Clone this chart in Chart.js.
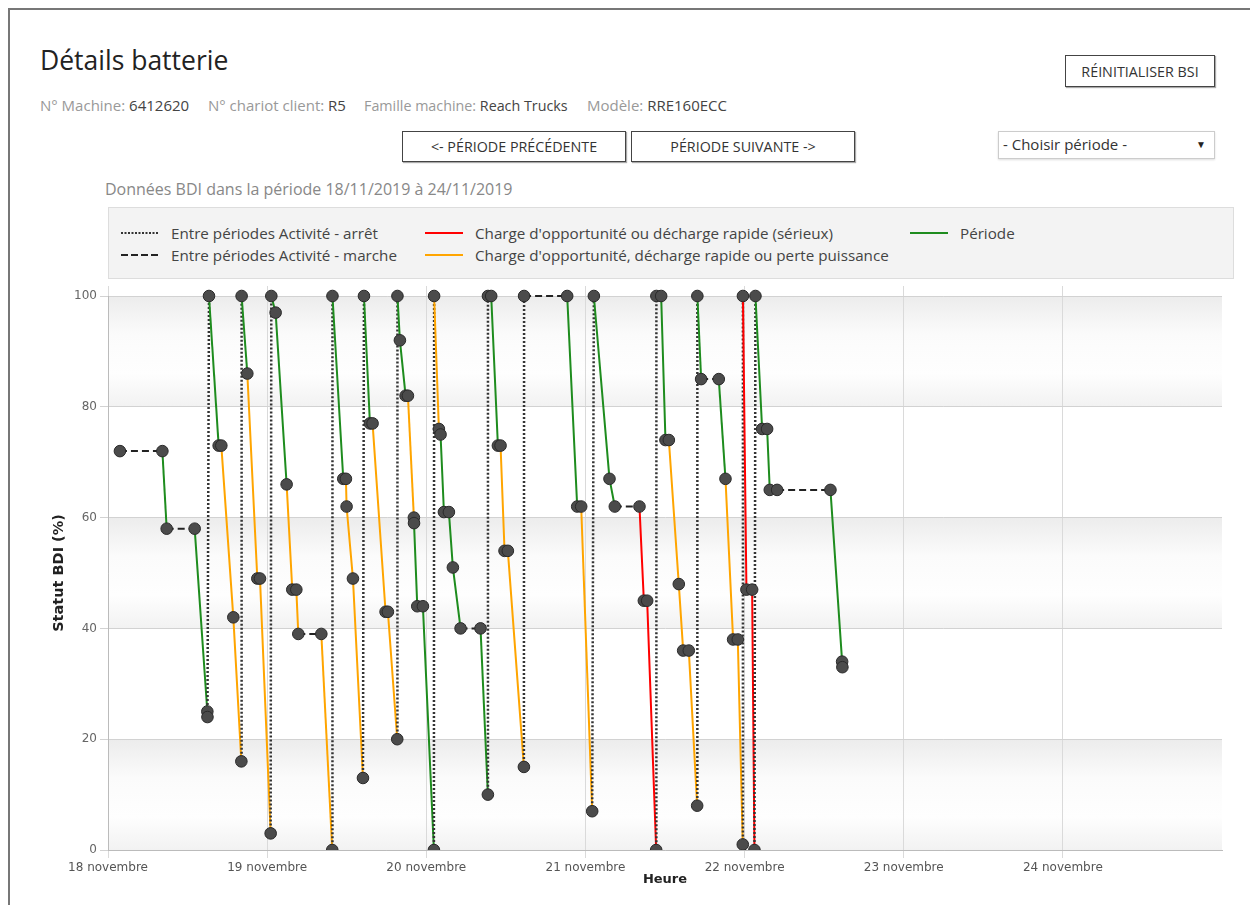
<!DOCTYPE html>
<html lang="fr">
<head>
<meta charset="utf-8">
<title>Détails batterie</title>
<script src="https://cdn.jsdelivr.net/npm/chart.js@4.4.0/dist/chart.umd.min.js"></script>
<style>
  body { margin: 0; width: 1250px; height: 905px; overflow: hidden; background: #fff; font-family: "Open Sans", sans-serif; position: relative; }
  #frame { position: absolute; left: 8px; top: 8px; width: 1300px; height: 960px; border-left: 2px solid #777; border-top: 2px solid #777; }
  .abs { position: absolute; white-space: nowrap; }
  h1 { position: absolute; left: 40px; top: 42px; margin: 0; font-size: 26.5px; font-weight: 400; color: #222; }
  .info { top: 95px; font-size: 15px; color: #999; }
  .info b { font-weight: 400; color: #444; }
  .btn { position: absolute; border: 1px solid #444; box-shadow: 1px 1px 1px #aaa; font-size: 14.3px; color: #333; display: flex; align-items: center; justify-content: center; box-sizing: border-box; background: #fff; }
  .select { position: absolute; left: 998px; top: 131px; width: 217px; height: 28px; border: 1px solid #ccc; box-shadow: 0 1px 2px #ddd; box-sizing: border-box; font-size: 15px; color: #333; }
  .select span { position: absolute; left: 4px; top: 2px; }
  .select i { position: absolute; right: 8px; top: 5px; font-style: normal; font-size: 10px; color: #222; }
  .sub { left: 105px; top: 178px; font-size: 16px; color: #888; }
  #legend { position: absolute; left: 108px; top: 207px; width: 1126px; height: 72px; background: #f3f3f3; border: 1px solid #ddd; box-sizing: border-box; }
  .item { position: absolute; height: 20px; display: flex; align-items: center; font-size: 15.2px; color: #444; white-space: nowrap; }
  .item svg { margin-right: 12px; }
  #chart { position: absolute; left: 0; top: 280px; }
</style>
</head>
<body>
<div id="frame"></div>
<h1>Détails batterie</h1>
<div class="abs info" style="left:40px">N° Machine: <b>6412620</b></div>
<div class="abs info" style="left:208px">N° chariot client: <b>R5</b></div>
<div class="abs info" style="left:364px;font-size:14.3px;top:96px">Famille machine: <b>Reach Trucks</b></div>
<div class="abs info" style="left:587px">Modèle: <b>RRE160ECC</b></div>

<div class="btn" style="left:1065px;top:55px;width:150px;height:32px">RÉINITIALISER BSI</div>
<div class="btn" style="left:402px;top:131px;width:224px;height:31px">&lt;- PÉRIODE PRÉCÉDENTE</div>
<div class="btn" style="left:631px;top:131px;width:224px;height:31px">PÉRIODE SUIVANTE -&gt;</div>
<div class="select"><span>- Choisir période -</span><i>▼</i></div>

<div class="abs sub">Données BDI dans la période 18/11/2019 à 24/11/2019</div>

<div id="legend">
  <div class="item" style="left:12px;top:15px"><svg width="38" height="6"><line x1="0" y1="3" x2="38" y2="3" stroke="#333" stroke-width="2" stroke-dasharray="2 1.5"/></svg>Entre périodes Activité - arrêt</div>
  <div class="item" style="left:12px;top:37px"><svg width="38" height="6"><line x1="0" y1="3" x2="38" y2="3" stroke="#222" stroke-width="2" stroke-dasharray="7 3"/></svg>Entre périodes Activité - marche</div>
  <div class="item" style="left:316px;top:15px"><svg width="38" height="6"><line x1="0" y1="3" x2="38" y2="3" stroke="#ff0000" stroke-width="2"/></svg>Charge d'opportunité ou décharge rapide (sérieux)</div>
  <div class="item" style="left:316px;top:37px"><svg width="38" height="6"><line x1="0" y1="3" x2="38" y2="3" stroke="#ffa500" stroke-width="2"/></svg>Charge d'opportunité, décharge rapide ou perte puissance</div>
  <div class="item" style="left:801px;top:15px"><svg width="38" height="6"><line x1="0" y1="3" x2="38" y2="3" stroke="#1e8c1e" stroke-width="2"/></svg>Période</div>
</div>

<canvas id="chart" width="1250" height="620"></canvas>

<script>
// heures depuis le 18/11/2019 00:00
const hours = [1.8, 8.2, 8.85, 13.07, 14.98, 15.0, 15.23, 16.69, 17.09, 18.9,
    20.11, 20.15, 21.01, 22.52, 22.92, 24.53, 24.63, 25.28, 26.94, 27.79,
    28.4, 28.7, 32.17, 33.82, 33.85, 35.48, 35.88, 35.98, 36.94, 38.45,
    38.6, 39.5, 39.9, 41.86, 42.21, 43.62, 43.65, 44.02, 44.88, 45.23,
    46.13, 46.15, 46.64, 47.49, 49.15, 49.18, 49.9, 50.15, 50.66, 51.41,
    52.01, 53.17, 56.18, 57.29, 57.3, 57.79, 58.8, 59.2, 59.8, 60.3,
    62.72, 62.75, 69.25, 70.76, 71.36, 73.02, 73.27, 75.63, 76.43, 80.15,
    80.81, 81.31, 82.67, 82.7, 83.42, 84.07, 84.58, 86.08, 86.74, 87.59,
    88.85, 88.88, 89.45, 92.11, 93.12, 94.27, 94.98, 95.73, 95.75, 96.28,
    97.14, 97.49, 97.64, 98.65, 99.4, 99.8, 100.91, 108.95, 110.71, 110.75];

const bdi = [72, 72, 58, 58, 25, 24, 100, 73, 73, 42,
    16, 100, 86, 49, 49, 3, 100, 97, 66, 47,
    47, 39, 39, 0, 100, 67, 67, 62, 49, 13,
    100, 77, 77, 43, 43, 20, 100, 92, 82, 82,
    60, 59, 44, 44, 0, 100, 76, 75, 61, 61,
    51, 40, 40, 10, 100, 100, 73, 73, 54, 54,
    15, 100, 100, 62, 62, 7, 100, 67, 62, 62,
    45, 45, 0, 100, 100, 74, 74, 48, 36, 36,
    8, 100, 85, 85, 67, 38, 38, 1, 100, 47,
    47, 0, 100, 76, 76, 65, 65, 65, 34, 33];

// type du segment qui part de chaque point
const segType = ['marche', 'periode', 'marche', 'periode', 'periode', 'arret', 'periode', 'orange', 'orange', 'orange',
    'arret', 'periode', 'orange', 'orange', 'orange', 'arret', 'periode', 'periode', 'orange', 'orange',
    'orange', 'marche', 'orange', 'arret', 'periode', 'periode', 'orange', 'orange', 'orange', 'arret',
    'periode', 'periode', 'orange', 'orange', 'orange', 'arret', 'periode', 'periode', 'periode', 'orange',
    'periode', 'periode', 'periode', 'periode', 'arret', 'orange', 'orange', 'periode', 'periode', 'periode',
    'periode', 'marche', 'periode', 'arret', 'periode', 'periode', 'periode', 'orange', 'orange', 'orange',
    'arret', 'marche', 'periode', 'periode', 'orange', 'arret', 'periode', 'periode', 'marche', 'rouge',
    'rouge', 'rouge', 'arret', 'periode', 'periode', 'periode', 'orange', 'orange', 'orange', 'orange',
    'arret', 'periode', 'marche', 'periode', 'orange', 'orange', 'orange', 'arret', 'rouge', 'rouge',
    'rouge', 'arret', 'periode', 'periode', 'periode', 'periode', 'marche', 'periode', 'periode'];

const dayLabels = ['18 novembre', '19 novembre', '20 novembre', '21 novembre',
    '22 novembre', '23 novembre', '24 novembre'];

const segStyle = {
    arret: { color: '#333', dash: [2, 2], width: 2.5 },
    marche: { color: '#222', dash: [7, 4], width: 2 },
    rouge: { color: '#ff0000', dash: [], width: 2 },
    orange: { color: '#ffa500', dash: [], width: 2 },
    periode: { color: '#1e8c1e', dash: [], width: 2 }
};

const bands = {
    id: 'bands',
    beforeDraw(chart) {
        const { ctx, chartArea: a, scales: { y } } = chart;
        [[80, 100], [40, 60], [0, 20]].forEach(function (b) {
            const top = y.getPixelForValue(b[1]);
            const bot = y.getPixelForValue(b[0]);
            const g = ctx.createLinearGradient(0, top, 0, bot);
            g.addColorStop(0, '#ececec');
            g.addColorStop(0.35, '#fbfbfb');
            g.addColorStop(0.7, '#fefefe');
            g.addColorStop(1, '#f2f2f2');
            ctx.fillStyle = g;
            ctx.fillRect(a.left, top, a.right - a.left, bot - top);
        });
    }
};

function gridColor(c) {
    return c.tick && c.tick.value === 168 ? 'rgba(0,0,0,0)' : '#dadada';
}

const points = hours.map((h, i) => ({ x: h, y: bdi[i] }));

new Chart(document.getElementById('chart'), {
    type: 'line',
    data: {
        datasets: [{
            data: points,
            borderWidth: 2,
            tension: 0,
            pointRadius: 5.8,
            pointBackgroundColor: '#4b4b4b',
            pointBorderColor: '#2a2a2a',
            pointBorderWidth: 1,
            clip: { left: 12, top: 12, right: 12, bottom: 0 },
            segment: {
                borderColor: c => segStyle[segType[c.p0DataIndex]].color,
                borderDash: c => segStyle[segType[c.p0DataIndex]].dash,
                borderWidth: c => segStyle[segType[c.p0DataIndex]].width
            }
        }]
    },
    options: {
        responsive: false,
        animation: false,
        events: [],
        layout: { padding: { left: 0, right: 28, top: 6, bottom: 0 } },
        plugins: { legend: { display: false }, tooltip: { enabled: false } },
        scales: {
            x: {
                type: 'linear', min: 0, max: 168,
                afterFit: s => { s.height = 50 },
                ticks: {
                    stepSize: 24, autoSkip: false, maxRotation: 0, padding: 3,
                    color: '#555', font: { family: 'DejaVu Sans', size: 12 },
                    callback: v => dayLabels[Math.round(v / 24)] || ''
                },
                grid: { color: gridColor, tickLength: 8 },
                border: { color: '#bbb' },
                title: {
                    display: true, text: 'Heure', color: '#222',
                    font: { family: 'DejaVu Sans', size: 13, weight: 'bold' },
                    padding: { top: 0, bottom: 13 }
                }
            },
            x2: {
                type: 'linear', position: 'top', min: 0, max: 168,
                afterFit: s => { s.height = 10 },
                ticks: { display: false, stepSize: 24 },
                grid: { color: gridColor, drawOnChartArea: false, tickLength: 10 },
                border: { display: false }
            },
            y: {
                min: 0, max: 100,
                afterFit: s => { s.width = 108 },
                ticks: { stepSize: 20, padding: 3, color: '#666', font: { family: 'DejaVu Sans', size: 12 } },
                grid: { color: '#d2d2d2', tickLength: 8 },
                border: { color: '#bbb' },
                title: {
                    display: true, text: 'Statut BDI (%)', color: '#222',
                    font: { family: 'DejaVu Sans', size: 14.5, weight: 'bold' },
                    padding: { top: 51, bottom: 0 }
                }
            }
        }
    },
    plugins: [bands]
});
</script>
</body>
</html>
